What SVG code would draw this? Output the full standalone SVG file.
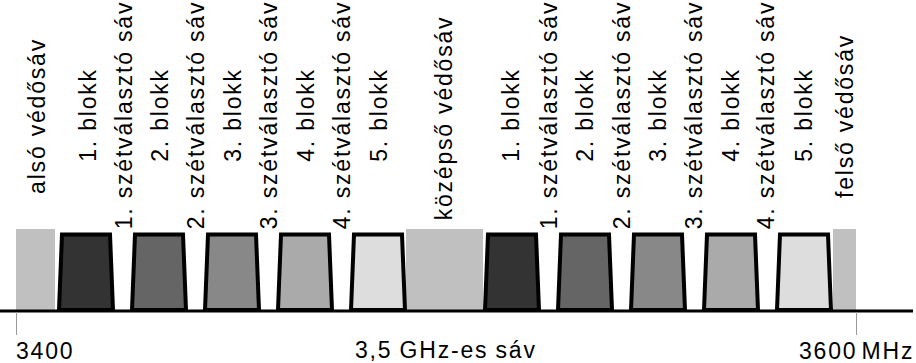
<svg xmlns="http://www.w3.org/2000/svg" width="916" height="363" viewBox="0 0 916 363">
<style>
.t{font-family:"Liberation Sans",Arial,sans-serif;font-size:23px;letter-spacing:1.8px;fill:#000}
.v{text-anchor:middle}
.blk{stroke:#000;stroke-width:4;stroke-linejoin:miter}
.g{fill:#c0c0c0}
</style>
<rect width="916" height="363" fill="#fff"/>
<g id="guards">
<rect id="guard-low" class="g" x="16" y="229" width="39" height="82"/>
<rect id="guard-mid" class="g" x="406" y="229" width="77" height="82"/>
<rect id="guard-high" class="g" x="833" y="229" width="23" height="82"/>
</g>
<g id="blocks">
<path id="b1" class="blk" fill="#333" d="M59,310 L62,234.5 L110,234.5 L113,310 Z"/>
<path id="b2" class="blk" fill="#656565" d="M132,310 L135,234.5 L183,234.5 L186,310 Z"/>
<path id="b3" class="blk" fill="#888" d="M205,310 L208,234.5 L256,234.5 L259,310 Z"/>
<path id="b4" class="blk" fill="#aaa" d="M278,310 L281,234.5 L329,234.5 L332,310 Z"/>
<path id="b5" class="blk" fill="#ddd" d="M351,310 L354,234.5 L402,234.5 L405,310 Z"/>
<path id="b1b" class="blk" fill="#333" d="M485,310 L488,234.5 L536,234.5 L539,310 Z"/>
<path id="b2b" class="blk" fill="#656565" d="M558,310 L561,234.5 L609,234.5 L612,310 Z"/>
<path id="b3b" class="blk" fill="#888" d="M631,310 L634,234.5 L682,234.5 L685,310 Z"/>
<path id="b4b" class="blk" fill="#aaa" d="M704,310 L707,234.5 L755,234.5 L758,310 Z"/>
<path id="b5b" class="blk" fill="#ddd" d="M777,310 L780,234.5 L828,234.5 L831,310 Z"/>
</g>
<g id="connectors">
<line x1="0" y1="311" x2="913" y2="311" stroke="#000" stroke-width="3"/>
<line x1="16.5" y1="312" x2="16.5" y2="335" stroke="#999" stroke-width="1"/>
<line x1="856.5" y1="312" x2="856.5" y2="335" stroke="#999" stroke-width="1"/>
</g>
<g id="labels">
<text class="t v" transform="translate(45,116) rotate(-90)">alsó védősáv</text>
<text class="t v" transform="translate(96,115) rotate(-90)">1. blokk</text>
<text class="t v" transform="translate(132,115) rotate(-90)">1. szétválasztó sáv</text>
<text class="t v" transform="translate(168,115) rotate(-90)">2. blokk</text>
<text class="t v" transform="translate(204,115) rotate(-90)">2. szétválasztó sáv</text>
<text class="t v" transform="translate(241,115) rotate(-90)">3. blokk</text>
<text class="t v" transform="translate(277,115) rotate(-90)">3. szétválasztó sáv</text>
<text class="t v" transform="translate(314,115) rotate(-90)">4. blokk</text>
<text class="t v" transform="translate(350,115) rotate(-90)">4. szétválasztó sáv</text>
<text class="t v" transform="translate(387,115) rotate(-90)">5. blokk</text>
<text class="t v" transform="translate(452,118) rotate(-90)">középső védősáv</text>
<text class="t v" transform="translate(519,115) rotate(-90)">1. blokk</text>
<text class="t v" transform="translate(557,115) rotate(-90)">1. szétválasztó sáv</text>
<text class="t v" transform="translate(593,115) rotate(-90)">2. blokk</text>
<text class="t v" transform="translate(630,115) rotate(-90)">2. szétválasztó sáv</text>
<text class="t v" transform="translate(666,115) rotate(-90)">3. blokk</text>
<text class="t v" transform="translate(702,115) rotate(-90)">3. szétválasztó sáv</text>
<text class="t v" transform="translate(739,115) rotate(-90)">4. blokk</text>
<text class="t v" transform="translate(774,115) rotate(-90)">4. szétválasztó sáv</text>
<text class="t v" transform="translate(812,115) rotate(-90)">5. blokk</text>
<text class="t v" transform="translate(853,116) rotate(-90)">felső védősáv</text>
<text class="t" x="16" y="359">3400</text>
<text class="t" x="355" y="358" word-spacing="-1">3,5 GHz-es sáv</text>
<text class="t" x="799" y="359" word-spacing="-4" letter-spacing="1.5">3600 MHz</text>
</g>
</svg>
